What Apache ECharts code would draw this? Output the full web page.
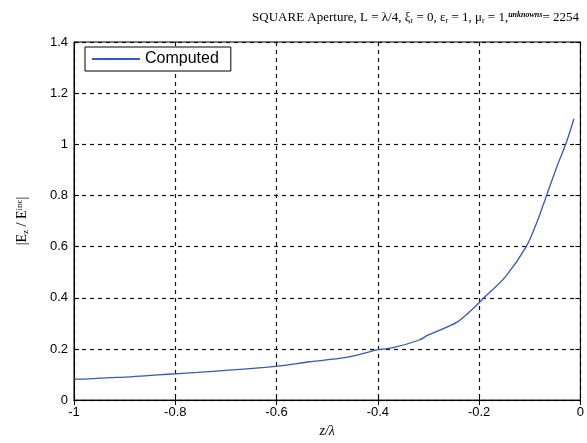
<!DOCTYPE html>
<html>
<head>
<meta charset="utf-8">
<script src="https://cdn.jsdelivr.net/npm/echarts@6/dist/echarts.min.js"></script>
<style>
  html, body { margin: 0; padding: 0; background: #fff; }
  #chart { width: 587px; height: 443px; }
</style>
</head>
<body>
<div id="chart"></div>
<script>
// Normalised axial position z/λ
const zOverLambda = [-1, -0.97, -0.93, -0.9, -0.854, -0.815, -0.756, -0.694, -0.623, -0.584,
  -0.535, -0.476, -0.441, -0.40, -0.37, -0.318, -0.30, -0.2435, -0.208, -0.188,
  -0.149, -0.107, -0.085, -0.065, -0.045, -0.029, -0.0127];
// Field magnitude ratio |Ez / Einc|
const fieldRatio = [0.082, 0.083, 0.088, 0.090, 0.096, 0.101, 0.108, 0.117, 0.128, 0.136,
  0.150, 0.163, 0.176, 0.197, 0.205, 0.235, 0.255, 0.305, 0.365, 0.405,
  0.48, 0.60, 0.70, 0.81, 0.92, 1.00, 1.10];
const xTicks = [-1, -0.8, -0.6, -0.4, -0.2, 0];
const yTicks = [0, 0.2, 0.4, 0.6, 0.8, 1, 1.2, 1.4];
const seriesName = 'Computed';

const points = zOverLambda.map((z, i) => [z, fieldRatio[i]]);
const chart = echarts.init(document.getElementById('chart'));

const gridDash = { color: '#111', width: 1.2, type: [4, 4] };
const tickFont = { fontFamily: 'Liberation Sans, Arial', fontSize: 13, color: '#000' };

chart.setOption({
  animation: false,
  backgroundColor: '#fff',
  title: {
    text: 'SQUARE Aperture, L = λ/4, ξ{s|r} = 0, ε{s|r} = 1, μ{s|r} = 1,{u|unknowns}= 2254',
    right: 3, top: 6,
    textStyle: {
      fontFamily: 'Liberation Serif, Times New Roman', fontSize: 13, fontWeight: 'normal', color: '#000',
      rich: {
        s: { fontFamily: 'Liberation Serif', fontSize: 8, verticalAlign: 'bottom', padding: [6, 0, 0, 0] },
        u: { fontFamily: 'Liberation Serif', fontSize: 8, fontWeight: 'bold', fontStyle: 'italic', padding: [0, 0, 6, 0] }
      }
    }
  },
  legend: {
    left: 85, top: 47,
    data: [seriesName],
    backgroundColor: '#fff',
    borderColor: '#000', borderWidth: 1,
    padding: [4, 12, 4, 7],
    itemWidth: 48, itemHeight: 2, itemGap: 6,
    icon: 'rect',
    textStyle: { fontFamily: 'Liberation Sans, Arial', fontSize: 16, color: '#000' }
  },
  grid: {
    left: 74, right: 1, top: 42, bottom: 41,
    show: true, borderColor: '#000', borderWidth: 1, backgroundColor: '#fff'
  },
  xAxis: [{
    type: 'value', min: -1, max: 0, interval: 0.2,
    name: 'z/λ', nameLocation: 'middle', nameGap: 21,
    nameTextStyle: { fontFamily: 'Liberation Serif', fontStyle: 'italic', fontSize: 14, color: '#000' },
    axisLine: { show: true, onZero: false, lineStyle: { color: '#000', width: 1 } },
    axisTick: { show: true, inside: true, length: 5, lineStyle: { color: '#000' } },
    axisLabel: Object.assign({ margin: 6, formatter: v => xTicks.includes(+v.toFixed(1)) ? String(+v.toFixed(1)) : '' }, tickFont),
    splitLine: { show: true, lineStyle: gridDash }
  }, {
    type: 'value', min: -1, max: 0, interval: 0.2, position: 'top',
    axisLine: { show: true, lineStyle: { color: '#000' } },
    axisTick: { show: true, inside: true, length: 5, lineStyle: { color: '#000' } },
    axisLabel: { show: false }, splitLine: { show: false }
  }],
  yAxis: [{
    type: 'value', min: 0, max: 1.4, interval: 0.2,
    name: '|E{b|z} / E{p|inc}|', nameLocation: 'middle', nameGap: 44,
    nameTextStyle: {
      fontFamily: 'Liberation Serif', fontSize: 14, color: '#000',
      rich: {
        b: { fontFamily: 'Liberation Serif', fontSize: 9, padding: [6, 0, 0, 0] },
        p: { fontFamily: 'Liberation Serif', fontSize: 9, padding: [0, 0, 6, 0] }
      }
    },
    axisLine: { show: true, onZero: false, lineStyle: { color: '#000', width: 1 } },
    axisTick: { show: true, inside: true, length: 5, lineStyle: { color: '#000' } },
    axisLabel: Object.assign({ margin: 6, formatter: v => String(+v.toFixed(1)) }, tickFont),
    splitLine: { show: true, lineStyle: gridDash }
  }, {
    type: 'value', min: 0, max: 1.4, interval: 0.2, position: 'right',
    axisLine: { show: true, lineStyle: { color: '#000' } },
    axisTick: { show: true, inside: true, length: 5, lineStyle: { color: '#000' } },
    axisLabel: { show: false }, splitLine: { show: false }
  }],
  series: [{
    name: seriesName,
    type: 'line',
    data: points,
    showSymbol: false,
    symbol: 'none',
    smooth: 0.3,
    lineStyle: { color: '#3558c0', width: 1.3 },
    itemStyle: { color: '#3558c0' },
    z: 5
  }]
});
</script>
</body>
</html>
